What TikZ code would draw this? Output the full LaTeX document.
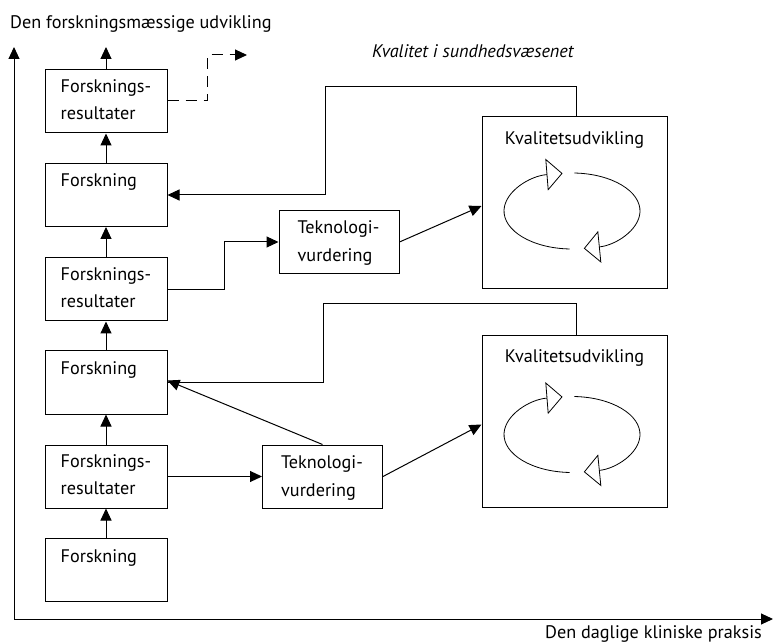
\documentclass[tikz,border=0pt]{standalone}
\usepackage{fontspec}
\setmainfont{PT Sans}
\usetikzlibrary{arrows.meta}
\begin{document}
\begin{tikzpicture}[x=1pt,y=1pt,
  every node/.style={font=\fontsize{18.2}{21}\selectfont},
  box/.style={draw, line width=1pt, minimum width=122pt, minimum height=63pt, inner sep=0pt},
  tbox/.style={draw, line width=1pt, minimum width=120pt, minimum height=63pt, inner sep=0pt},
  kbox/.style={draw, line width=1pt, minimum width=185pt, minimum height=172pt, inner sep=0pt},
  lbl/.style={inner sep=0pt, anchor=base west},
  conn/.style={line width=1pt},
  arr/.style={line width=1pt, -{Triangle[length=12pt,width=11pt]}},
  cyc/.style={line width=0.8pt, -{Triangle[open,length=16pt,width=32pt]}}
]
\useasboundingbox (0,0) rectangle (773,643);

% axes
\coordinate (o) at (14,24);
\coordinate (ytip) at (14,596);
\coordinate (xtip) at (773,24);
\draw[arr] (o) -- (ytip);
\draw[arr] (o) -- (xtip);
\node[lbl] (ttl) at (10,614) {Den forskningsmæssige udvikling};
\node[inner sep=0pt, anchor=base east] (xlab) at (762,5) {Den daglige kliniske praksis};
\node[lbl] (kq) at (372,585) {\itshape Kvalitet i sundhedsvæsenet};

% left column
\node[box] (fr1) at (106,541.5) {};
\node[box] (f1) at (106,448) {};
\node[box] (fr2) at (106,353.5) {};
\node[box] (f2) at (106,260.5) {};
\node[box] (fr3) at (106,166.5) {};
\node[box] (f3) at (106,73) {};

\foreach \b in {fr1,fr2,fr3}{
  \node[lbl] at ([xshift=16pt,yshift=-23pt]\b.north west) {Forsknings-};
  \node[lbl] at ([xshift=16pt,yshift=-50pt]\b.north west) {resultater};
}
\foreach \b in {f1,f2,f3}{
  \node[lbl] at ([xshift=16pt,yshift=-24pt]\b.north west) {Forskning};
}

% technology boxes
\node[tbox] (t1) at (339,401) {};
\node[tbox] (t2) at (322.5,166.5) {};
\foreach \b in {t1,t2}{
  \node[lbl] at ([xshift=19pt,yshift=-24pt]\b.north west) {Teknologi-};
  \node[lbl] at ([xshift=19pt,yshift=-52pt]\b.north west) {vurdering};
}

% quality boxes
\node[kbox] (k1) at (574.5,440) {};
\node[kbox] (k2) at (574.5,221.5) {};
\node[inner sep=0pt, anchor=base] at ([yshift=-28pt]k1.north) {Kvalitetsudvikling};
\node[inner sep=0pt, anchor=base] at ([yshift=-28pt]k2.north) {Kvalitetsudvikling};

% cycles
\coordinate (c1) at (572,432);
\coordinate (c2) at (572,208.5);
\foreach \c in {c1,c2}{
  \draw[cyc] (\c) ++(268:68 and 38) arc[start angle=268, end angle=98, x radius=68, y radius=38];
  \draw[cyc] (\c) ++(88:68 and 38) arc[start angle=88, end angle=-80, x radius=68, y radius=38];
}

% vertical arrows
\coordinate (top1) at (106,596);
\draw[arr] (fr1.north) -- (top1);
\draw[arr] (f1.north) -- (fr1.south);
\draw[arr] (fr2.north) -- (f1.south);
\draw[arr] (f2.north) -- (fr2.south);
\draw[arr] (fr3.north) -- (f2.south);
\draw[arr] (f3.north) -- (fr3.south);

% dashed
\coordinate (dtip) at (247,588);
\draw[line width=1pt, dash pattern=on 11pt off 7pt, -{Triangle[length=12pt,width=11pt]}]
  ([yshift=0.5pt]fr1.east) -- ++(40,0) |- (dtip);

% connectors upper
\draw[arr] (k1.north) ++(1.5,0) |- (325,556) |- (f1.east);
\draw[arr] (fr2.east) -| (224,401) -- (t1.west);
\draw[arr] (t1.east) -- ([yshift=-3pt]k1.west);

% connectors lower
\draw[conn] (k2.north) ++(1.5,0) |- (323,339) |- (f2.east);
\draw[arr] (t2.north) -- ([yshift=2pt]f2.east);
\draw[arr] (fr3.east) -- (t2.west);
\draw[arr] (t2.east) -- ([yshift=-3pt]k2.west);
\end{tikzpicture}
\end{document}
